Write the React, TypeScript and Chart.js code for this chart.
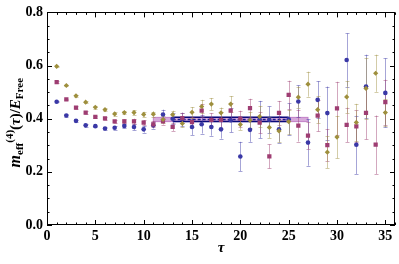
import React, { useEffect, useRef } from "react";
import { Chart, registerables } from "chart.js";

Chart.register(...registerables);

const tau = [1, 2, 3, 4, 5, 6, 7, 8, 9, 10, 11, 12, 13, 14, 15, 16, 17, 18, 19, 20, 21, 22, 23, 24, 25, 26, 27, 28, 29, 30, 31, 32, 33, 34, 35];

const blueVals = [0.464, 0.412, 0.392, 0.375, 0.372, 0.363, 0.366, 0.373, 0.369, 0.36, 0.375, 0.416, 0.40, 0.398, 0.369, 0.379, 0.369, 0.36, 0.394, 0.258, 0.358, 0.397, 0.396, 0.36, 0.398, 0.465, 0.31, 0.471, 0.421, null, 0.621, 0.302, 0.521, null, 0.497];
const blueErrs = [0.003, 0.004, 0.004, 0.005, 0.005, 0.006, 0.007, 0.008, 0.012, 0.012, 0.012, 0.018, 0.02, 0.025, 0.03, 0.035, 0.033, 0.035, 0.045, 0.055, 0.045, 0.07, 0.05, 0.05, 0.06, 0.06, 0.087, 0.07, 0.1, null, 0.1, 0.11, 0.12, null, 0.13];

const pinkVals = [0.538, 0.473, 0.442, 0.423, 0.407, 0.401, 0.39, 0.39, 0.39, 0.385, 0.379, 0.39, 0.369, 0.402, 0.387, 0.43, 0.396, 0.396, 0.43, 0.4, 0.44, 0.385, 0.258, 0.422, 0.49, 0.374, 0.336, 0.412, 0.301, 0.439, 0.377, 0.371, 0.422, 0.302, 0.462];
const pinkErrs = [0.003, 0.003, 0.004, 0.005, 0.005, 0.006, 0.006, 0.008, 0.01, 0.01, 0.012, 0.012, 0.015, 0.02, 0.02, 0.025, 0.025, 0.03, 0.03, 0.03, 0.035, 0.04, 0.045, 0.045, 0.053, 0.06, 0.05, 0.06, 0.06, 0.1, 0.065, 0.06, 0.1, 0.11, 0.085];

const goldVals = [0.597, 0.525, 0.486, 0.462, 0.443, 0.434, 0.418, 0.423, 0.423, 0.416, 0.417, 0.397, 0.415, 0.382, 0.424, 0.446, 0.455, 0.422, 0.455, 0.378, 0.394, 0.408, 0.367, 0.354, 0.389, 0.481, 0.53, 0.434, 0.274, 0.331, 0.482, 0.386, 0.514, 0.571, 0.423];
const goldErrs = [0.003, 0.003, 0.004, 0.004, 0.005, 0.005, 0.006, 0.007, 0.008, 0.01, 0.01, 0.012, 0.015, 0.015, 0.02, 0.025, 0.023, 0.02, 0.03, 0.02, 0.03, 0.04, 0.04, 0.04, 0.045, 0.04, 0.047, 0.05, 0.06, 0.08, 0.06, 0.07, 0.115, 0.07, 0.05];

// fit band
const bandRange = [11, 27];
const bandLow = 0.389;
const bandHigh = 0.405;
const fitRange = [13, 25];
const fitValue = 0.397;

const xTicks = [0, 5, 10, 15, 20, 25, 30, 35];
const yTicks = [0, 0.2, 0.4, 0.6, 0.8];

const BLUE = "#3a38a6";
const PINK = "#9e3d72";
const GOLD = "#9e8f3d";

const series = [
  { vals: blueVals, errs: blueErrs, err: "rgba(58,56,166,0.45)" },
  { vals: pinkVals, errs: pinkErrs, err: "rgba(158,61,114,0.45)" },
  { vals: goldVals, errs: goldErrs, err: "rgba(158,143,61,0.45)" },
];

const mk = (vals: (number | null)[]) => tau.map((t, i) => ({ x: t, y: vals[i] }));

const SERIF = '"Liberation Serif", "DejaVu Serif", serif';

const decorPlugin = {
  id: "decor",
  beforeDatasetsDraw(chart: any) {
    const { ctx, chartArea, scales } = chart;
    const x = scales.x, y = scales.y;
    ctx.save();
    ctx.beginPath();
    ctx.rect(chartArea.left, chartArea.top, chartArea.right - chartArea.left, chartArea.bottom - chartArea.top);
    ctx.clip();
    // band
    const bx1 = x.getPixelForValue(bandRange[0]);
    const bx2 = x.getPixelForValue(bandRange[1]);
    const by1 = y.getPixelForValue(bandHigh);
    const by2 = y.getPixelForValue(bandLow);
    ctx.fillStyle = "rgba(200,140,205,0.75)";
    ctx.fillRect(bx1, by1, bx2 - bx1, by2 - by1);
    ctx.strokeStyle = "rgba(190,120,195,0.9)";
    ctx.lineWidth = 1;
    ctx.strokeRect(bx1, by1, bx2 - bx1, by2 - by1);
    // fit lines
    const fx1 = x.getPixelForValue(fitRange[0]);
    const fx2 = x.getPixelForValue(fitRange[1]);
    ctx.strokeStyle = "#0a0a7a";
    ctx.lineWidth = 1.5;
    [bandHigh, bandLow].forEach((v) => {
      const py = y.getPixelForValue(v);
      ctx.beginPath();
      ctx.moveTo(fx1, py);
      ctx.lineTo(fx2, py);
      ctx.stroke();
    });
    ctx.strokeStyle = "#1a1a8a";
    ctx.lineWidth = 1.5;
    ctx.setLineDash([3, 2]);
    const fy = y.getPixelForValue(fitValue);
    ctx.beginPath();
    ctx.moveTo(fx1, fy);
    ctx.lineTo(fx2, fy);
    ctx.stroke();
    ctx.setLineDash([]);
    // error bars
    series.forEach((s) => {
      ctx.strokeStyle = s.err;
      ctx.lineWidth = 1;
      tau.forEach((t, i) => {
        const v = s.vals[i];
        const e = s.errs[i];
        if (v == null || e == null) return;
        const px = Math.round(x.getPixelForValue(t)) + 0.5;
        const y1 = y.getPixelForValue(v + e);
        const y2 = y.getPixelForValue(v - e);
        ctx.beginPath();
        ctx.moveTo(px, y1);
        ctx.lineTo(px, y2);
        ctx.moveTo(px - 2, Math.round(y1) + 0.5);
        ctx.lineTo(px + 2, Math.round(y1) + 0.5);
        ctx.moveTo(px - 2, Math.round(y2) + 0.5);
        ctx.lineTo(px + 2, Math.round(y2) + 0.5);
        ctx.stroke();
      });
    });
    ctx.restore();
  },
  afterDraw(chart: any) {
    const { ctx, chartArea, scales } = chart;
    const x = scales.x, y = scales.y;
    const L = chartArea.left, R = chartArea.right, T = chartArea.top, B = chartArea.bottom;
    ctx.save();
    ctx.strokeStyle = "#000";
    ctx.lineWidth = 1;
    ctx.strokeRect(Math.round(L) + 0.5, Math.round(T) + 0.5, Math.round(R - L) - 1, Math.round(B - T) - 1);
    ctx.beginPath();
    for (let t = 0; t <= 36; t++) {
      const px = Math.round(x.getPixelForValue(t)) + 0.5;
      const len = t % 5 === 0 ? 5 : 2.5;
      ctx.moveTo(px, B);
      ctx.lineTo(px, B - len);
      ctx.moveTo(px, T);
      ctx.lineTo(px, T + len);
    }
    for (let k = 0; k <= 16; k++) {
      const v = k * 0.05;
      const py = Math.round(y.getPixelForValue(v)) + 0.5;
      const len = k % 4 === 0 ? 5 : 2.5;
      ctx.moveTo(L, py);
      ctx.lineTo(L + len, py);
      ctx.moveTo(R, py);
      ctx.lineTo(R - len, py);
    }
    ctx.stroke();

    // y axis title
    ctx.fillStyle = "#000";
    ctx.textBaseline = "alphabetic";
    const parts = [
      { t: "m", f: `italic bold 16px ${SERIF}`, dy: 0 },
      { t: "eff", f: `bold 11px ${SERIF}`, dy: 3 },
      { t: "(4)", f: `bold 11px ${SERIF}`, dy: -7 },
      { t: "(", f: `bold 15px ${SERIF}`, dy: 0 },
      { t: "τ", f: `italic bold 15px ${SERIF}`, dy: 0 },
      { t: ")/", f: `bold 15px ${SERIF}`, dy: 0 },
      { t: "E", f: `italic bold 15px ${SERIF}`, dy: 0 },
      { t: "Free", f: `bold 11px ${SERIF}`, dy: 3 },
    ];
    let total = 0;
    const widths = parts.map((p) => {
      ctx.font = p.f;
      const w = ctx.measureText(p.t).width;
      total += w;
      return w;
    });
    ctx.translate(20, (T + B) / 2 + 4);
    ctx.rotate(-Math.PI / 2);
    let cx = -total / 2;
    parts.forEach((p, i) => {
      ctx.font = p.f;
      ctx.fillText(p.t, cx, p.dy);
      cx += widths[i];
    });
    ctx.restore();

    // x axis title
    ctx.save();
    ctx.fillStyle = "#000";
    ctx.font = `italic bold 15px ${SERIF}`;
    ctx.textAlign = "center";
    ctx.textBaseline = "alphabetic";
    ctx.fillText("τ", (L + R) / 2, 252);
    ctx.restore();
  },
};

export default function App() {
  const ref = useRef<HTMLCanvasElement>(null);
  useEffect(() => {
    if (!ref.current) return;
    const chart = new Chart(ref.current, {
      type: "scatter",
      data: {
        datasets: [
          { label: "gold", data: mk(goldVals), pointStyle: "rectRot", pointRadius: 2.6, backgroundColor: GOLD, borderColor: GOLD, borderWidth: 0 },
          { label: "pink", data: mk(pinkVals), pointStyle: "rect", pointRadius: 3.0, backgroundColor: PINK, borderColor: PINK, borderWidth: 0 },
          { label: "blue", data: mk(blueVals), pointStyle: "circle", pointRadius: 2.3, backgroundColor: BLUE, borderColor: BLUE, borderWidth: 0 },
        ],
      },
      options: {
        responsive: false,
        animation: false,
        devicePixelRatio: 1,
        layout: { padding: { top: 8, right: 2, left: 0, bottom: 0 } },
        plugins: { legend: { display: false }, tooltip: { enabled: false } },
        scales: {
          x: {
            type: "linear",
            min: 0,
            max: 36,
            grid: { display: false, drawTicks: false },
            border: { display: false },
            afterFit: (s: any) => { s.height = 39; },
            afterBuildTicks: (s: any) => { s.ticks = xTicks.map((v) => ({ value: v })); },
            ticks: {
              autoSkip: false,
              maxRotation: 0,
              padding: 3,
              color: "#000",
              font: { family: SERIF, size: 14, weight: "bold" },
              callback: (v: any) => String(v),
            },
          },
          y: {
            type: "linear",
            min: 0,
            max: 0.8,
            grid: { display: false, drawTicks: false },
            border: { display: false },
            afterFit: (s: any) => { s.width = 47; },
            afterBuildTicks: (s: any) => { s.ticks = yTicks.map((v) => ({ value: v })); },
            ticks: {
              autoSkip: false,
              padding: 4,
              color: "#000",
              font: { family: SERIF, size: 14, weight: "bold" },
              callback: (v: any) => Number(v).toFixed(1),
            },
          },
        },
      },
      plugins: [decorPlugin],
    });
    return () => chart.destroy();
  }, []);
  return (
    <div style={{ position: "absolute", left: 0, top: 0, width: 399, height: 264, background: "#fff" }}>
      <canvas ref={ref} width={399} height={264} style={{ display: "block" }} />
    </div>
  );
}
